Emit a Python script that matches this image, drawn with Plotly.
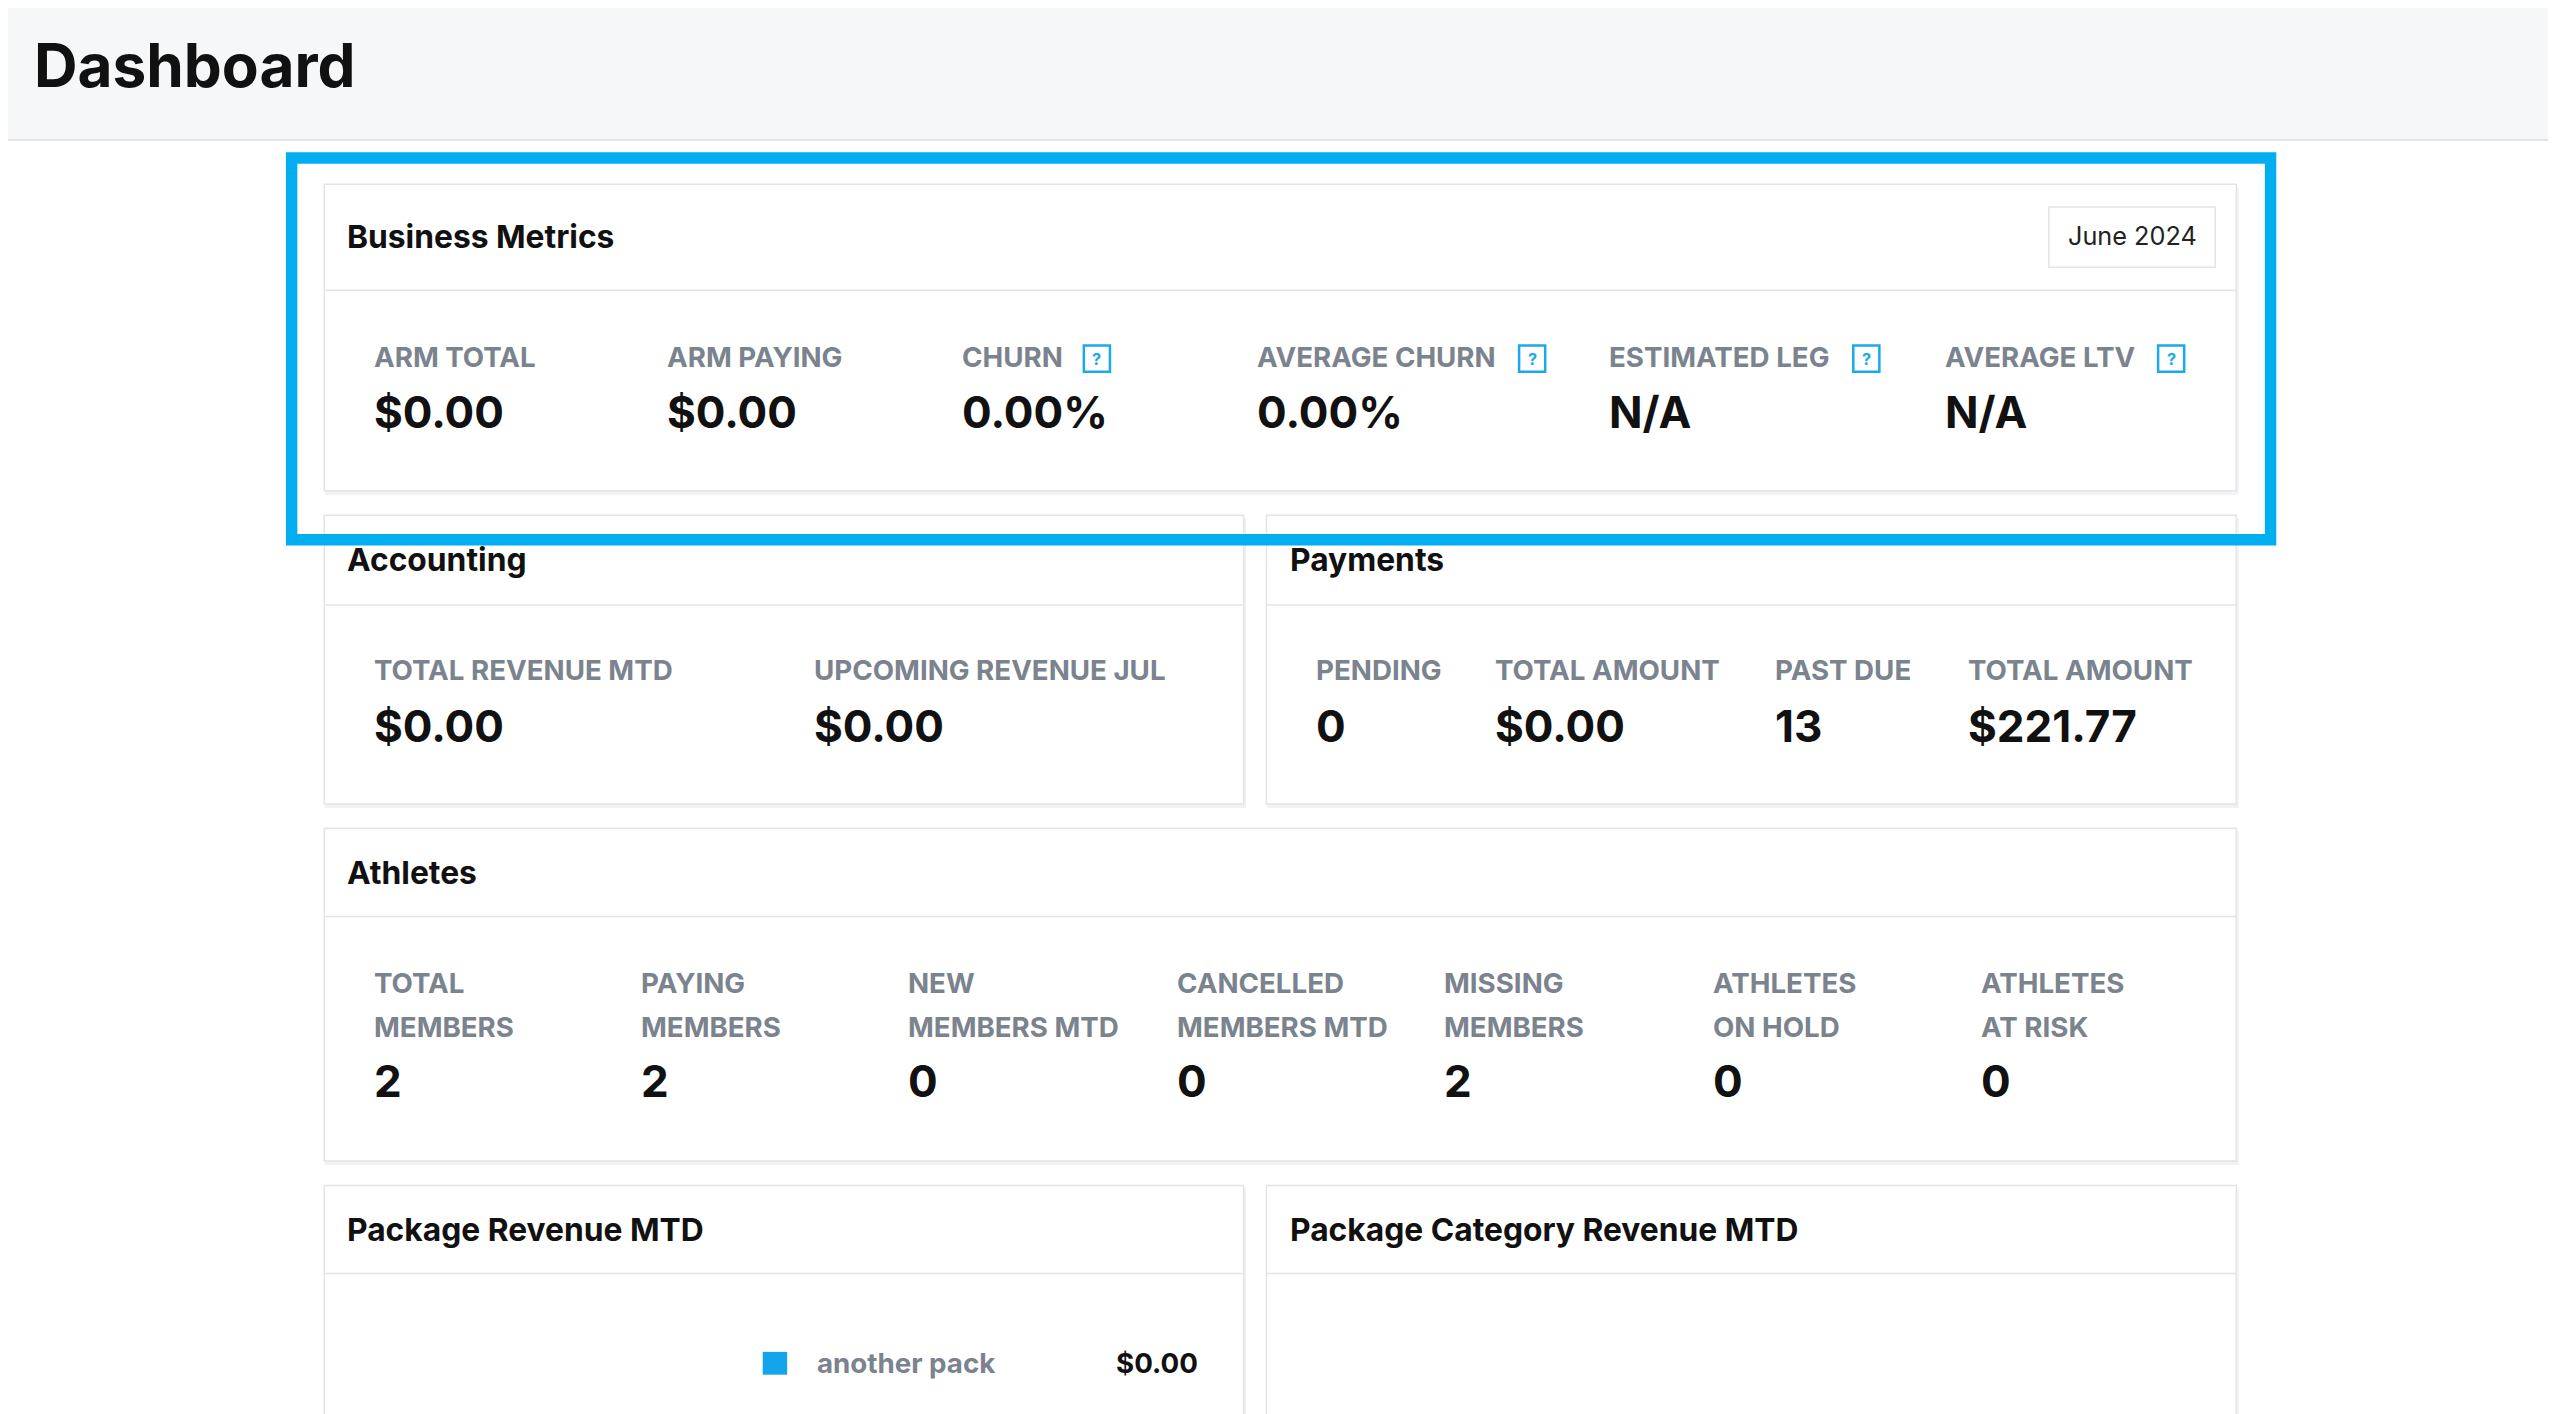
import plotly.graph_objects as go

S = 2556 / 1568
FONT = "Inter"

metric_labels = ["ARM TOTAL", "ARM PAYING", "CHURN", "AVERAGE CHURN", "ESTIMATED LEG", "AVERAGE LTV"]
metric_values = ["$0.00", "$0.00", "0.00%", "0.00%", "N/A", "N/A"]
metric_help = [False, False, True, True, True, True]
acc_labels = ["TOTAL REVENUE MTD", "UPCOMING REVENUE JUL"]
acc_values = ["$0.00", "$0.00"]
pay_labels = ["PENDING", "TOTAL AMOUNT", "PAST DUE", "TOTAL AMOUNT"]
pay_values = ["0", "$0.00", "13", "$221.77"]
ath_labels = [["TOTAL", "MEMBERS"], ["PAYING", "MEMBERS"], ["NEW", "MEMBERS MTD"],
              ["CANCELLED", "MEMBERS MTD"], ["MISSING", "MEMBERS"], ["ATHLETES", "ON HOLD"],
              ["ATHLETES", "AT RISK"]]
ath_values = ["2", "2", "0", "0", "2", "0", "0"]
pkg_names = ["another pack"]
pkg_values = ["$0.00"]
period = "June 2024"

fig = go.Figure()
shapes, ann = [], []
GRAY = "#7b838e"
BORDER = "#e2e4e8"


def text(x, y, t, size, color="#111", bold=False, xa="left"):
    ann.append(dict(x=x, y=y, xref="x", yref="y", text=f"<b>{t}</b>" if bold else t,
                    showarrow=False, xanchor=xa, yanchor="middle",
                    font=dict(family=FONT, size=size * S, color=color)))


def rect(x0, y0, x1, y1, fill="white", line=BORDER, w=1.5):
    shapes.append(dict(type="rect", xref="x", yref="y", x0=x0, y0=y0, x1=x1, y1=y1,
                       fillcolor=fill, line=dict(color=line, width=w), layer="below"))


def hline(x0, x1, y, color=BORDER):
    shapes.append(dict(type="line", xref="x", yref="y", x0=x0, x1=x1, y0=y, y1=y,
                       line=dict(color=color, width=1.5), layer="below"))


def card(x0, y0, x1, y1, title, hy, ty):
    rect(x0 + 1, y0 + 2, x1 + 1, y1 + 2, fill="#f1f2f4", line="#f1f2f4")
    rect(x0, y0, x1, y1)
    hline(x0, x1, hy)
    text(x0 + 13, ty, title, 19.5, bold=True)


def helpicon(x, y):
    shapes.append(dict(type="rect", xref="x", yref="y", x0=x - 8, x1=x + 8, y0=y - 8, y1=y + 8,
                       line=dict(color="#1ba8ec", width=2.5), fillcolor="white"))
    ann.append(dict(x=x, y=y, xref="x", yref="y", text="<b>?</b>", showarrow=False,
                    font=dict(family=FONT, size=10 * S, color="#1ba8ec")))


# header
rect(-10, -10, 1590, 86, fill="#f6f7f9", line="#f6f7f9")
hline(-10, 1590, 86, "#dcdde0")
text(20, 40, "Dashboard", 37, bold=True)

# Business metrics
card(199, 113, 1372, 301, "Business Metrics", 178, 145)
shapes.append(dict(type="rect", xref="x", yref="y", x0=1257, x1=1359, y0=127, y1=164,
                   line=dict(color=BORDER, width=1.5), fillcolor="white", layer="below"))
text(1308, 145, period, 15.5, color="#222", xa="center")
mx = [228, 408, 589, 770, 986, 1192]
help_off = [0, 0, 84, 170, 159, 140]
for x, l, v, h, o in zip(mx, metric_labels, metric_values, metric_help, help_off):
    text(x, 219, l, 17, GRAY, bold=True)
    text(x, 253, v, 27, bold=True)
    if h:
        helpicon(x + o, 220)

# Accounting
card(199, 316, 763, 493, "Accounting", 371, 343)
for x, l, v in zip([228, 498], acc_labels, acc_values):
    text(x, 411, l, 17, GRAY, bold=True)
    text(x, 445, v, 27, bold=True)

# Payments
card(777, 316, 1372, 493, "Payments", 371, 343)
for x, l, v in zip([806, 916, 1088, 1206], pay_labels, pay_values):
    text(x, 411, l, 17, GRAY, bold=True)
    text(x, 445, v, 27, bold=True)

# Athletes
card(199, 508, 1372, 712, "Athletes", 562, 535)
for x, l, v in zip([228, 392, 556, 721, 885, 1050, 1214], ath_labels, ath_values):
    text(x, 603, l[0], 17, GRAY, bold=True)
    text(x, 630, l[1], 17, GRAY, bold=True)
    text(x, 663, v, 27, bold=True)

# Package cards
card(199, 727, 763, 900, "Package Revenue MTD", 781, 754)
card(777, 727, 1372, 900, "Package Category Revenue MTD", 781, 754)
for i, (n, v) in enumerate(zip(pkg_names, pkg_values)):
    y = 836 + i * 30
    shapes.append(dict(type="rect", xref="x", yref="y", x0=468, x1=483, y0=y - 7, y1=y + 7,
                       fillcolor="#12a5ec", line=dict(width=0)))
    text(500, y, n, 17, GRAY, bold=True)
    text(736, y, v, 17, "#111", bold=True, xa="right")

# highlight box
shapes.append(dict(type="rect", xref="x", yref="y", x0=179, x1=1393, y0=97, y1=331,
                   line=dict(color="#03aef0", width=7 * S), fillcolor="rgba(0,0,0,0)"))

fig.add_trace(go.Scatter(x=[600], y=[600], mode="markers", marker=dict(opacity=0), hoverinfo="skip"))
fig.update_layout(width=2556, height=1414, margin=dict(l=0, r=0, t=0, b=0),
                  paper_bgcolor="white", plot_bgcolor="white", showlegend=False,
                  shapes=shapes, annotations=ann,
                  xaxis=dict(range=[5, 1573], visible=False, fixedrange=True),
                  yaxis=dict(range=[872, 5], visible=False, fixedrange=True))
fig.write_html("out.html", config={"displayModeBar": False})
